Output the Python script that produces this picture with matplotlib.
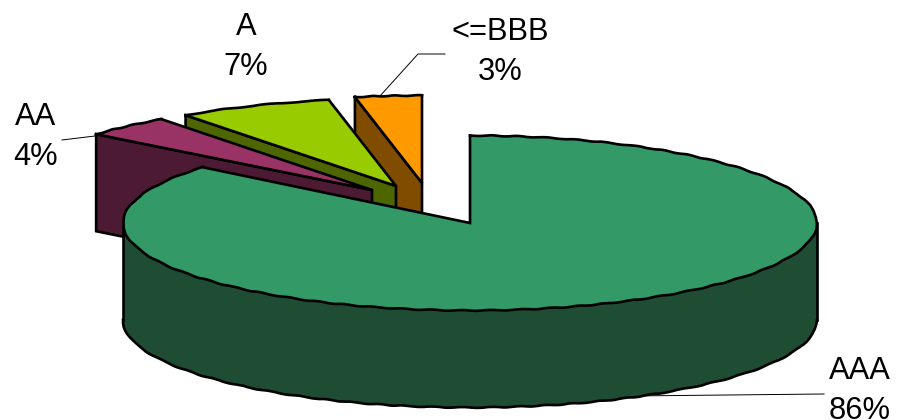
#!/usr/bin/env python3
"""Exploded 3D-style pie of the rating split, drawn in pixel coordinates."""
import numpy as np
import matplotlib
matplotlib.use("Agg")
import matplotlib.pyplot as plt
from matplotlib.patches import Polygon

plt.rcParams["font.family"] = ["Liberation Sans", "DejaVu Sans"]

ratings = ["AAA", "AA", "A", "<=BBB"]
shares = [86, 4, 7, 3]
top_colors = ["#339966", "#993366", "#99CC00", "#FF9900"]
side_colors = ["#1F4D33", "#4D1A33", "#4D6600", "#804D00"]

# disc geometry; the pulled-out slices are drawn a little wider
CX, CY = 470, 223
RX, RY = 347, 87.5
RX_PULLED = 358
DEPTH = 97
# apex of each slice once pulled out of the pie
apexes = [(CX, CY), (372, 190), (396, 186), (422, 183)]
# centre of each label, and the leader line running to it
label_pos = [(860, 391), (36, 137), (246, 47), (500, 52)]
leaders = [
    [(630, 396), (824, 394)],
    [(62, 140), (95, 136)],
    None,
    [(380, 96), (418, 54), (445, 54)],
]
LW = 1.9
WAVY = (0.4, 30, 2)


def rim(apex, rx, a0, a1, n=80):
    """Points on the slice rim; angles run clockwise from 12 o'clock."""
    t = np.radians(np.linspace(a0, a1, n))
    return np.column_stack([apex[0] + rx * np.sin(t), apex[1] - RY * np.cos(t)])


def fill(ax, pts, color, z):
    ax.add_patch(Polygon(pts, closed=True, facecolor=color, edgecolor="none", zorder=z))


def outline(ax, pts, z, wavy=False):
    pts = np.asarray(pts)
    line, = ax.plot(pts[:, 0], pts[:, 1], color="black", lw=LW, zorder=z,
                    solid_joinstyle="miter")
    if wavy:
        line.set_sketch_params(*WAVY)


fig = plt.figure(figsize=(8.99, 4.2), dpi=100)
ax = fig.add_axes([0, 0, 1, 1])
ax.set_xlim(0, 899)
ax.set_ylim(420, 0)
ax.axis("off")

edges = np.concatenate([[0], np.cumsum(shares)]) * 3.6

# back to front: small slices from the right, the big slice last
for i in [3, 2, 1, 0]:
    a0, a1 = edges[i], edges[i + 1]
    apex = apexes[i]
    rx = RX if i == 0 else RX_PULLED
    z = 10 * (4 - i)
    if i == 0:
        # outer wall of the big slice, visible along the near half only
        front = rim(apex, rx, 90, 270)
        low = front + [0, DEPTH]
        fill(ax, np.vstack([front, low[::-1]]), side_colors[i], z)
        outline(ax, low, z, wavy=True)
        outline(ax, [front[0], low[0]], z)
        outline(ax, [front[-1], low[-1]], z)
    else:
        # cut face on the counter-clockwise side of the slice
        corner = rim(apex, rx, a0, a0, 1)[0]
        wall = np.array([corner, apex, (apex[0], apex[1] + DEPTH),
                         (corner[0], corner[1] + DEPTH), corner])
        fill(ax, wall, side_colors[i], z)
        outline(ax, wall, z)
    arc = rim(apex, rx, a0, a1)
    fill(ax, np.vstack([[apex], arc]), top_colors[i], z + 1)
    outline(ax, arc, z + 1, wavy=True)
    outline(ax, [arc[-1], apex, arc[0]], z + 1)

for name, share, pos, leader in zip(ratings, shares, label_pos, leaders):
    ax.text(pos[0], pos[1], f"{name}\n{share}%", ha="center", va="center",
            fontsize=22.2, linespacing=1.44, color="black", zorder=60)
    if leader:
        xs, ys = zip(*leader)
        ax.plot(xs, ys, color="black", lw=0.7, zorder=5)

fig.savefig("out.png", dpi=100)
